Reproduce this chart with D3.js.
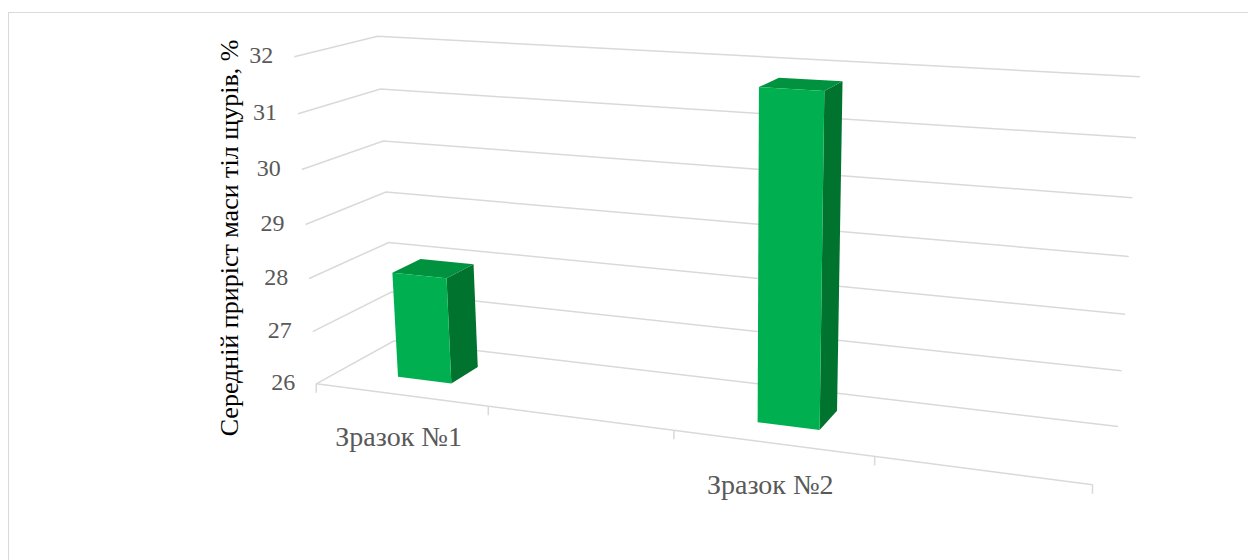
<!DOCTYPE html>
<html><head><meta charset="utf-8">
<script src="https://cdn.jsdelivr.net/npm/d3@7"></script>
<style>body{margin:0;background:#fff}svg{display:block}</style>
</head><body>
<svg id="chart" width="1248" height="560"></svg>
<script>
// Category slots along the floor (blank slots keep their place on the axis)
const categories = ["Зразок №1", "", "Зразок №2", ""];
// Mean body-weight gain of the rats, %
const values = [28.0, null, 31.8, null];
const yTicks = [26, 27, 28, 29, 30, 31, 32];
const yTitle = "Середній приріст маси тіл щурів, %";

// World space: X = category axis (0..1), Y = value axis (0..1), Z = depth (0 front, 1 back).
// Perspective camera as a 3x4 projection matrix onto screen pixels.
const camera = [
  [617.3284, -36.70161, 108.3910, 316.2091],
  [30.36522, -329.8385, -16.69435, 383.8030],
  [-0.1455190, -0.05001749, 0.07738044, 1]
];
function project(X, Y, Z) {
  const h = camera[2][0] * X + camera[2][1] * Y + camera[2][2] * Z + camera[2][3];
  return [
    (camera[0][0] * X + camera[0][1] * Y + camera[0][2] * Z + camera[0][3]) / h,
    (camera[1][0] * X + camera[1][1] * Y + camera[1][2] * Z + camera[1][3]) / h
  ];
}

const svg = d3.select("#chart");
const x = d3.scaleBand().domain(d3.range(categories.length)).range([0, 1])
  .paddingInner(0.684).paddingOuter(0.342);
const slot = d3.scaleLinear().domain([0, categories.length]).range([0, 1]);
const y = d3.scaleLinear().domain([26, 32]).range([0, 1]);
const depth = [0.31, 0.68];
const line = d3.line();

// chart frame
svg.append("rect").attr("x", 8.5).attr("y", 12.5).attr("width", 1300).attr("height", 600)
  .attr("fill", "none").attr("stroke", "#d9d9d9");

// gridlines on the side and back walls, floor front edge with slot ticks
const grid = svg.append("g").attr("fill", "none").attr("stroke", "#d9d9d9").attr("stroke-width", 1.5);
yTicks.forEach(t => {
  const Y = y(t);
  grid.append("path").attr("d", line([project(0, Y, 0), project(0, Y, 1), project(1, Y, 1)]));
});
grid.append("path").attr("d", line([project(0, 0, 0), project(1, 0, 0)]));
d3.range(categories.length + 1).forEach(i => {
  const q = project(slot(i), 0, 0);
  grid.append("path").attr("d", line([q, [q[0], q[1] + 9]]));
});

// value axis labels
const yLabels = svg.append("g").attr("font-family", "Liberation Serif, Times New Roman, serif")
  .attr("font-size", 24).attr("fill", "#595959");
yTicks.forEach(t => {
  const q = project(0, y(t), 0);
  yLabels.append("text").attr("x", q[0] - 21).attr("y", q[1] + 1)
    .attr("text-anchor", "end").attr("dominant-baseline", "middle").text(t);
});

// category labels
const xLabels = svg.append("g").attr("font-family", "Liberation Serif, Times New Roman, serif")
  .attr("font-size", 28).attr("fill", "#595959");
categories.forEach((c, i) => {
  if (!c) return;
  const q = project(x(i) + x.bandwidth() / 2, 0, 0);
  xLabels.append("text").attr("x", q[0] - 2).attr("y", q[1] + 51).attr("text-anchor", "middle").text(c);
});

// value axis title
svg.append("text").attr("transform", "translate(229,238) rotate(-90)")
  .attr("text-anchor", "middle").attr("dy", "0.35em")
  .attr("font-family", "Liberation Serif, Times New Roman, serif").attr("font-size", 26)
  .attr("fill", "#000").text(yTitle);

// 3D columns: right side, top and front faces
const bars = svg.append("g");
values.forEach((v, i) => {
  if (v == null) return;
  const x0 = x(i), x1 = x0 + x.bandwidth(), y1 = y(v), z0 = depth[0], z1 = depth[1];
  const front = [[x0, 0, z0], [x1, 0, z0], [x1, y1, z0], [x0, y1, z0]];
  const side = [[x1, 0, z0], [x1, 0, z1], [x1, y1, z1], [x1, y1, z0]];
  const top = [[x0, y1, z0], [x1, y1, z0], [x1, y1, z1], [x0, y1, z1]];
  [[side, "#00732f"], [top, "#00923f"], [front, "#00b050"]].forEach(([pts, col]) =>
    bars.append("path").attr("d", line(pts.map(a => project(...a))) + "Z").attr("fill", col));
});
</script></body></html>
